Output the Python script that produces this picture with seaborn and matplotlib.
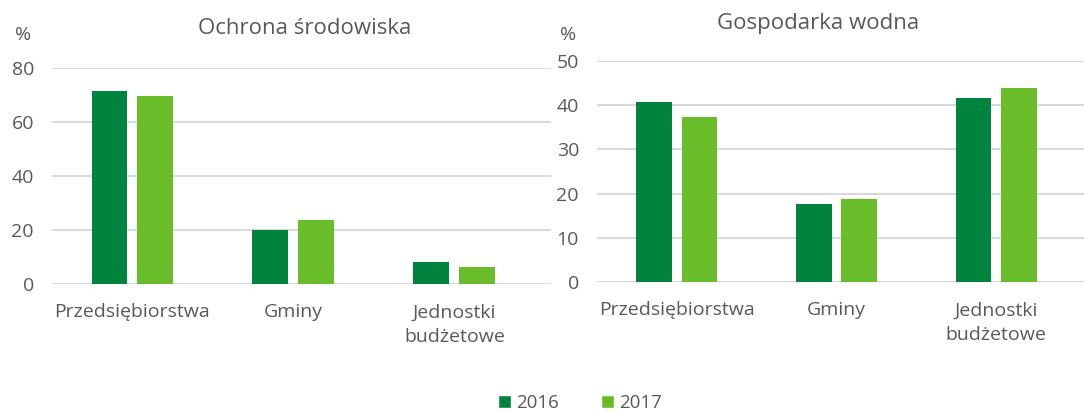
import matplotlib
matplotlib.use("Agg")
import matplotlib.pyplot as plt
import seaborn as sns
import pandas as pd
from matplotlib.patches import Patch

categories = ["Przedsiębiorstwa", "Gminy", "Jednostki\nbudżetowe"]
years = ["2016", "2017"]
ochrona_2016 = [71.5, 20.0, 8.1]
ochrona_2017 = [69.6, 23.7, 6.3]
woda_2016 = [40.7, 17.6, 41.6]
woda_2017 = [37.3, 18.8, 43.9]

colors = ["#00843D", "#6ABD2A"]
text_color = "#595959"
grid_color = "#D9D9D9"

sns.set_theme(style="white")
plt.rcParams["font.family"] = ["Open Sans", "DejaVu Sans"]

def make_df(v16, v17):
    rows = []
    for c, a, b in zip(categories, v16, v17):
        rows.append({"cat": c, "year": years[0], "val": a})
        rows.append({"cat": c, "year": years[1], "val": b})
    return pd.DataFrame(rows)

fig = plt.figure(figsize=(10.84, 4.12), dpi=100)
ax1 = fig.add_axes([52/1084, 1-284/412, (551-52)/1084, 216/412])
ax2 = fig.add_axes([597/1084, 1-282/412, (1084-597)/1084, 221/412])

for ax, v16, v17, ymax, step, xr in [(ax1, ochrona_2016, ochrona_2017, 80, 20, 2.6),
                                      (ax2, woda_2016, woda_2017, 50, 10, 2.55)]:
    df = make_df(v16, v17)
    sns.barplot(data=df, x="cat", y="val", hue="year", palette=colors,
                width=0.571, gap=0.217, ax=ax, legend=False, saturation=1,
                edgecolor="none")
    ax.set_ylim(0, ymax)
    ax.set_xlim(-0.5, xr)
    ax.set_yticks(range(0, ymax + 1, step))
    ax.yaxis.grid(True, color=grid_color, linewidth=1.5)
    ax.set_axisbelow(True)
    for s in ax.spines.values():
        s.set_visible(False)
    ax.set_xlabel("")
    ax.set_ylabel("")
    ax.tick_params(axis="both", length=0, labelsize=14, colors=text_color)
    ax.tick_params(axis="y", pad=13)
    ax.tick_params(axis="x", pad=14)
    for lbl in ax.get_xticklabels():
        lbl.set_linespacing(1.45)
    ax.patch.set_alpha(0)

fig.text(305/1084, 1-29/412, "Ochrona środowiska", ha="center", va="center",
         fontsize=16, color=text_color)
fig.text(818/1084, 1-23/412, "Gospodarka wodna", ha="center", va="center",
         fontsize=16, color=text_color)
fig.text(23/1084, 1-35/412, "%", ha="center", va="center", fontsize=14, color=text_color)
fig.text(568/1084, 1-35/412, "%", ha="center", va="center", fontsize=14, color=text_color)

handles = [Patch(facecolor=colors[0]), Patch(facecolor=colors[1])]
fig.legend(handles, years, loc="center", bbox_to_anchor=(580/1084, 1-403/412),
           ncol=2, frameon=False, fontsize=13.5, labelcolor=text_color,
           handlelength=0.7, handleheight=0.7, handletextpad=0.3, columnspacing=2.2)

fig.savefig("out.png", dpi=100)
